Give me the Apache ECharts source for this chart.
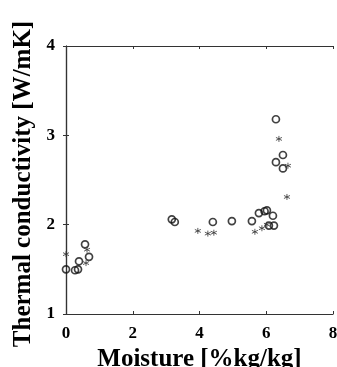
<!DOCTYPE html>
<html>
<head>
<meta charset="utf-8">
<script src="https://cdn.jsdelivr.net/npm/echarts@6/dist/echarts.min.js"></script>
<style>
  html, body { margin: 0; padding: 0; background: #fff; }
  #chart { width: 337px; height: 367px; }
</style>
</head>
<body>
<div id="chart"></div>
<script>
// measured points (moisture %kg/kg, conductivity W/mK)
var circleX = [0, 0.27, 0.36, 0.39, 0.57, 0.69, 3.17, 3.26, 4.40, 4.97, 5.57, 5.78, 5.95, 6.02, 6.20, 6.08, 6.23, 6.29, 6.50, 6.29, 6.50];
var circleY = [1.50, 1.49, 1.50, 1.59, 1.78, 1.64, 2.06, 2.03, 2.03, 2.04, 2.04, 2.13, 2.15, 2.16, 2.10, 1.99, 1.99, 3.18, 2.78, 2.70, 2.63];
var starX = [0, 0.60, 0.63, 3.95, 4.25, 4.43, 5.66, 5.87, 6.02, 6.38, 6.65, 6.62];
var starY = [1.67, 1.57, 1.72, 1.93, 1.90, 1.91, 1.92, 1.96, 2.00, 2.96, 2.66, 2.31];

var xTicks = [0, 2, 4, 6, 8];
var yTicks = [1, 2, 3, 4];

function pairs(xs, ys) {
  return xs.map(function (x, i) { return [x, ys[i]]; });
}

var font = '"Liberation Serif", "DejaVu Serif", serif';
var asterisk = 'path://M0,-10 L0,10 M-8.66,-5 L8.66,5 M-8.66,5 L8.66,-5';

var tickStyle = { show: true, inside: true, length: 3, lineStyle: { color: '#333', width: 1 } };
var lineStyle = { show: true, lineStyle: { color: '#333', width: 1.2 } };

var option = {
  animation: false,
  backgroundColor: '#fff',
  grid: { left: 66, right: 4, top: 46, bottom: 53, containLabel: false, outerBoundsMode: 'none' },
  xAxis: [{
    type: 'value', min: xTicks[0], max: xTicks[xTicks.length - 1], interval: 2,
    name: 'Moisture [%kg/kg]', nameLocation: 'middle', nameGap: 27,
    nameTextStyle: { fontFamily: font, fontWeight: 'bold', fontSize: 25, color: '#000' },
    axisLine: lineStyle, axisTick: tickStyle, splitLine: { show: false },
    axisLabel: { fontFamily: font, fontWeight: 'bold', fontSize: 17, color: '#000', margin: 11 }
  }, {
    type: 'value', position: 'top', min: 0, max: 8, interval: 2,
    axisLine: lineStyle, axisTick: tickStyle, axisLabel: { show: false }, splitLine: { show: false }
  }],
  yAxis: [{
    type: 'value', min: yTicks[0], max: yTicks[yTicks.length - 1], interval: 1,
    name: 'Thermal conductivity [W/mK]', nameLocation: 'middle', nameGap: 30,
    nameTextStyle: { fontFamily: font, fontWeight: 'bold', fontSize: 25, color: '#000', padding: [0, 8, 0, 0] },
    axisLine: lineStyle, axisTick: tickStyle, splitLine: { show: false },
    axisLabel: { fontFamily: font, fontWeight: 'bold', fontSize: 17, color: '#000', margin: 11 }
  }, {
    type: 'value', position: 'right', min: 1, max: 4, interval: 1,
    axisLine: lineStyle, axisTick: tickStyle, axisLabel: { show: false }, splitLine: { show: false }
  }],
  series: [{
    type: 'scatter', data: pairs(circleX, circleY), clip: false,
    symbol: 'circle', symbolSize: 7,
    itemStyle: { color: 'rgba(0,0,0,0)', borderColor: '#111', borderWidth: 1.7 }
  }, {
    type: 'scatter', data: pairs(starX, starY), clip: false,
    symbol: asterisk, symbolSize: 6,
    itemStyle: { color: 'rgba(0,0,0,0)', borderColor: '#333', borderWidth: 1 }
  }]
};

echarts.init(document.getElementById('chart'), null, { renderer: 'canvas' }).setOption(option);
</script>
</body>
</html>
